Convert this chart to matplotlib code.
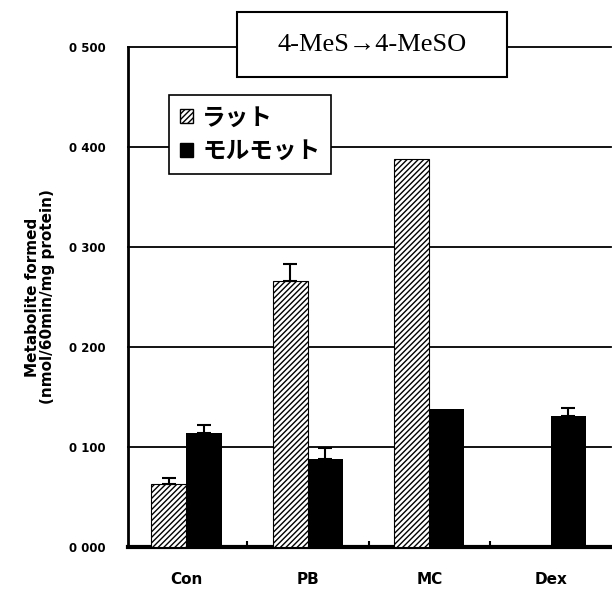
import matplotlib

matplotlib.use("Agg")

import matplotlib.pyplot as plt
from matplotlib.patches import Rectangle
import numpy as np

plt.rcParams["hatch.linewidth"] = 1.0

categories = ["Con", "PB", "MC", "Dex"]
rat_values = [0.063, 0.266, 0.388, np.nan]
rat_errors = [0.006, 0.017, 0.0, 0.0]
gp_values = [0.114, 0.088, 0.138, 0.131]
gp_errors = [0.008, 0.011, 0.0, 0.008]
y_ticks = [0.0, 0.1, 0.2, 0.3, 0.4, 0.5]
y_tick_labels = ["0 000", "0 100", "0 200", "0 300", "0 400", "0 500"]
legend_labels = ["ラット", "モルモット"]
title = "4-MeS\u21924-MeSO"

W, H = 612, 589
fig = plt.figure(figsize=(W / 100, H / 100), dpi=100)
ax = fig.add_axes([128 / W, 1 - 547 / H, 0.79, 500 / H])

x = np.arange(len(categories))
width = 0.29

for xi, v, e in zip(x, rat_values, rat_errors):
    if np.isnan(v):
        continue
    ax.bar(xi - width / 2, v, width, facecolor="white", edgecolor="black",
           hatch="//////", linewidth=0.8, zorder=3)
    if e > 0:
        ax.errorbar(xi - width / 2, v, yerr=[[0], [e]], fmt="none", ecolor="black",
                    elinewidth=1.5, capsize=5, capthick=1.5, zorder=4)

for xi, v, e in zip(x, gp_values, gp_errors):
    ax.bar(xi + width / 2, v, width, color="black", zorder=3)
    if e > 0:
        ax.errorbar(xi + width / 2, v, yerr=[[0], [e]], fmt="none", ecolor="black",
                    elinewidth=1.5, capsize=5, capthick=1.5, zorder=4)

ax.set_xlim(-0.48, 3.5)
ax.set_ylim(0, 0.5)

for yv in y_ticks[1:]:
    ax.axhline(yv, color="black", linewidth=1.3, zorder=1, clip_on=False)

ax.set_yticks(y_ticks)
ax.set_yticklabels(y_tick_labels, fontsize=8.5, fontweight="bold", family="DejaVu Sans")
ax.tick_params(axis="y", length=0, pad=16)

ax.set_xticks(x[:-1] + 0.5)
ax.set_xticklabels([])
ax.tick_params(axis="x", direction="in", length=4, width=1.5)
for xi, label in zip(x, categories):
    ax.text(xi, -0.033, label, ha="center", va="center", fontsize=11,
            fontweight="bold", family="DejaVu Sans")

for side in ["top", "right"]:
    ax.spines[side].set_visible(False)
ax.spines["left"].set_linewidth(2)
ax.spines["bottom"].set_linewidth(3)

ax.set_ylabel("Metabolite formed\n(nmol/60min/mg protein)", fontsize=11,
              fontweight="bold", labelpad=10, linespacing=1.05)

# title box sitting on the 0.500 line
fig.patches.append(Rectangle((237 / W, 1 - 77 / H), 270 / W, 65 / H,
                             transform=fig.transFigure, facecolor="white",
                             edgecolor="black", linewidth=1.5, zorder=5))
fig.text(372 / W, 1 - 45 / H, title, ha="center", va="center", fontsize=19,
         family="Liberation Serif", zorder=6)

handles = [
    Rectangle((0, 0), 1, 1, facecolor="white", edgecolor="black", hatch="//////"),
    Rectangle((0, 0), 1, 1, facecolor="black", edgecolor="black"),
]
leg = ax.legend(handles, legend_labels, loc="upper left", bbox_to_anchor=(0.085, 0.904),
                fancybox=False, framealpha=1, edgecolor="black", handlelength=0.55,
                handleheight=0.55, handletextpad=0.4, labelspacing=0.4, borderpad=0.45,
                borderaxespad=0,
                prop={"family": ["Noto Sans CJK JP", "DejaVu Sans"], "weight": "bold",
                      "size": 17})
leg.get_frame().set_linewidth(1.2)
leg.set_zorder(6)

fig.savefig("out.png", dpi=100)
plt.close(fig)
